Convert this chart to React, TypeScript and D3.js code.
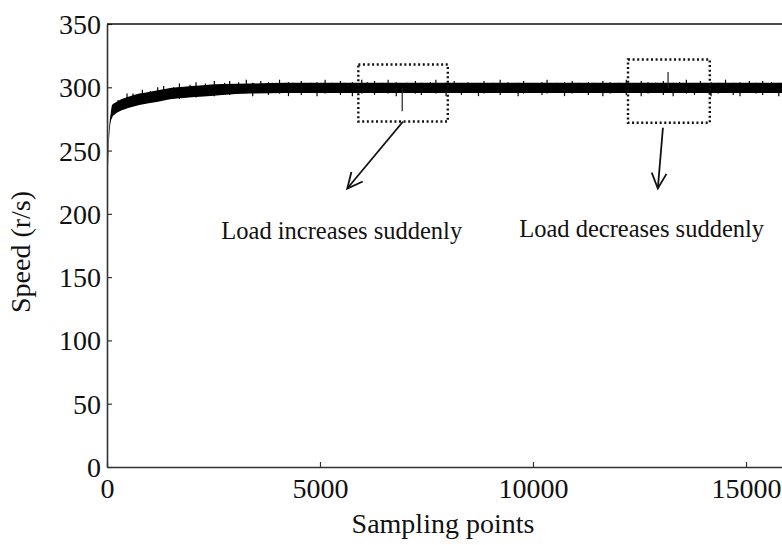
import React, { useRef, useEffect } from "react";
import * as d3 from "d3";

// envelope of the noisy speed trace (sampling point -> speed)
const bandX = [0, 15, 35, 60, 90, 120, 200, 300, 540, 760, 1010, 1250, 1480, 1800, 2180, 2700, 3360, 4200, 5000, 6000, 8000, 10000, 12000, 14000, 16000];
const bandHi = [212, 238, 260, 272, 280, 286, 288, 290, 293, 295, 296.5, 298, 299.5, 300.5, 301.5, 302.5, 303, 303.5, 303.5, 303.5, 303.5, 303.5, 303.5, 303.5, 303.5];
const bandLo = [205, 225, 250, 265, 273, 276, 279, 281, 284, 286, 287.5, 289, 290.5, 291.5, 292.5, 294, 295, 295.5, 295.5, 295.5, 295.5, 295.5, 295.5, 295.5, 295.5];

// visible noise spikes sticking out of the band (top / bottom end)
const spikeX = [260, 470, 610, 830, 1020, 1190, 1330, 1560, 1700, 1950, 2090, 2310, 2520, 2760, 2880, 3090, 3270, 3420, 3610, 3790, 3880, 4050, 4260, 4370, 4560, 4780, 4930, 5120, 5290, 5480, 5570, 5760, 5980, 6110, 6280, 6460, 6600, 6790, 7050, 7240, 7380, 7590, 7720, 7960, 8150, 8320, 8470, 8720, 8850, 9060, 9230, 9410, 9650, 9780, 9990, 10210, 10330, 10560, 10740, 10920, 11080, 11300, 11430, 11640, 11810, 12020, 12190, 12360, 12540, 12700, 12880, 13060, 13290, 13440, 13600, 13790, 13930, 14180, 14350, 14520, 14700, 14860, 15080, 15240, 15390, 15600, 15770, 15920];
const spikeHi = [290, 295, 295, 298, 297, 300, 301, 300, 303, 302, 304, 303, 305, 303.5, 305, 304, 306, 303.5, 305, 304, 303.5, 306, 304, 303.5, 305, 303.5, 304, 306, 303.5, 305, 303.5, 304, 306, 304, 305, 303.5, 306, 304, 303.5, 305, 303.5, 304, 306, 303.5, 305, 303.5, 304, 303.5, 305, 303.5, 306, 304, 303.5, 305, 303.5, 304, 306, 303.5, 304, 305, 303.5, 304, 303.5, 305, 304, 303.5, 306, 303.5, 305, 304, 303.5, 305, 303.5, 304, 306, 303.5, 305, 304, 303.5, 306, 303.5, 304, 305, 303.5, 305, 304, 303.5, 306];
const spikeLo = [283, 285, 287, 287, 289, 289, 291, 291, 291, 293, 292, 294, 293, 295, 294, 295.5, 295, 293, 295.5, 294, 295.5, 295, 293, 295.5, 294, 295.5, 293, 295, 295.5, 294, 295.5, 293, 295, 295.5, 294, 295.5, 295, 293, 295.5, 295, 294, 295.5, 295, 293, 295.5, 294, 295.5, 293, 295, 295.5, 294, 295.5, 293, 295, 295.5, 294, 295, 295.5, 293, 295, 295.5, 294, 295.5, 293, 295, 295.5, 294, 295.5, 293, 295, 295.5, 294, 293, 295.5, 295, 294, 295.5, 293, 295, 295.5, 294, 293, 295.5, 295, 294, 295.5, 293, 295];

// load disturbance events
const eventX = [6930, 13170];
const eventY = [281, 312];

const yTicks = [0, 50, 100, 150, 200, 250, 300, 350];
const xTicks = [0, 5000, 10000, 15000];

// annotation boxes [x0, x1, yTop, yBottom], arrows and labels (data coords)
const boxes = [
  [5900, 8000, 318, 273],
  [12230, 14150, 322, 272],
];
const arrows = [
  [6950, 273, 5640, 220],
  [13050, 268, 12930, 220],
];
const notes = ["Load increases suddenly", "Load decreases suddenly"];
const noteX = [5510, 12550];
const noteY = [180, 181.5];

export default function App() {
  const svgRef = useRef<SVGSVGElement>(null);
  const width = 782;
  const height = 545;
  const margin = { top: 24, left: 107, bottom: 78 };
  const serif = "'Liberation Serif', 'Times New Roman', serif";

  useEffect(() => {
    const svg = d3.select(svgRef.current);
    svg.selectAll("*").remove();

    const x = d3.scaleLinear().domain([0, 16000]).range([margin.left, margin.left + (16000 * 213) / 5000]);
    const y = d3.scaleLinear().domain([0, 350]).range([height - margin.bottom, margin.top]);

    // noisy band
    const band = bandX.map((v, i) => ({ x: v, hi: bandHi[i], lo: bandLo[i] }));
    svg
      .append("path")
      .datum(band)
      .attr("d", d3.area<any>().x((d) => x(d.x)).y0((d) => y(d.lo)).y1((d) => y(d.hi)).curve(d3.curveMonotoneX))
      .attr("fill", "#000");

    // spikes
    svg
      .selectAll(".spk")
      .data(spikeX)
      .enter()
      .append("line")
      .attr("x1", (d) => x(d))
      .attr("x2", (d) => x(d))
      .attr("y1", (d, i) => y(spikeHi[i]))
      .attr("y2", (d, i) => y(spikeLo[i]))
      .attr("stroke", "#000")
      .attr("stroke-width", 1.2);

    svg
      .selectAll(".evt")
      .data(eventX)
      .enter()
      .append("line")
      .attr("x1", (d) => x(d))
      .attr("x2", (d) => x(d))
      .attr("y1", y(299))
      .attr("y2", (d, i) => y(eventY[i]))
      .attr("stroke", "#222")
      .attr("stroke-width", 1.2);

    // axes
    const ax = svg
      .append("g")
      .attr("transform", `translate(0,${height - margin.bottom})`)
      .call(d3.axisBottom(x).tickValues(xTicks).tickSizeInner(-5).tickSizeOuter(0).tickPadding(11).tickFormat(d3.format("d")));
    const ay = svg
      .append("g")
      .attr("transform", `translate(${margin.left},0)`)
      .call(d3.axisLeft(y).tickValues(yTicks).tickSizeInner(-5).tickSizeOuter(0).tickPadding(6));
    [ax, ay].forEach((g) => {
      g.select(".domain").attr("stroke", "#333").attr("stroke-width", 1.6);
      g.selectAll(".tick line").attr("stroke", "#333").attr("stroke-width", 1.2);
      g.selectAll("text").attr("font-family", serif).attr("font-size", 28).attr("fill", "#111");
    });
    ay.selectAll("text").attr("dy", "0.34em");

    // top border
    svg
      .append("line")
      .attr("x1", margin.left)
      .attr("x2", x(16000))
      .attr("y1", y(350))
      .attr("y2", y(350))
      .attr("stroke", "#111")
      .attr("stroke-width", 1.6);

    // dotted boxes
    svg
      .selectAll(".box")
      .data(boxes)
      .enter()
      .append("rect")
      .attr("x", (d) => x(d[0]))
      .attr("y", (d) => y(d[2]))
      .attr("width", (d) => x(d[1]) - x(d[0]))
      .attr("height", (d) => y(d[3]) - y(d[2]))
      .attr("fill", "none")
      .attr("stroke", "#111")
      .attr("stroke-width", 2.4)
      .attr("stroke-dasharray", "2 2.6");

    // arrows
    arrows.forEach((a) => {
      const x1 = x(a[0]), y1 = y(a[1]), x2 = x(a[2]), y2 = y(a[3]);
      const ang = Math.atan2(y2 - y1, x2 - x1);
      const len = 17;
      const spread = 0.45;
      svg
        .append("line")
        .attr("x1", x1)
        .attr("y1", y1)
        .attr("x2", x2)
        .attr("y2", y2)
        .attr("stroke", "#111")
        .attr("stroke-width", 1.8);
      svg
        .append("path")
        .attr(
          "d",
          `M${x2 - len * Math.cos(ang - spread)},${y2 - len * Math.sin(ang - spread)}L${x2},${y2}L${x2 - len * Math.cos(ang + spread)},${y2 - len * Math.sin(ang + spread)}`
        )
        .attr("fill", "none")
        .attr("stroke", "#111")
        .attr("stroke-width", 1.8);
    });

    // notes
    svg
      .selectAll(".note")
      .data(notes)
      .enter()
      .append("text")
      .attr("x", (d, i) => x(noteX[i]))
      .attr("y", (d, i) => y(noteY[i]))
      .attr("text-anchor", "middle")
      .attr("font-family", serif)
      .attr("font-size", 24.5)
      .attr("fill", "#111")
      .text((d) => d);

    // axis labels
    svg
      .append("text")
      .attr("x", 443)
      .attr("y", 533)
      .attr("text-anchor", "middle")
      .attr("font-family", serif)
      .attr("font-size", 28)
      .attr("fill", "#111")
      .text("Sampling points");
    svg
      .append("text")
      .attr("transform", "rotate(-90)")
      .attr("x", -252)
      .attr("y", 30)
      .attr("text-anchor", "middle")
      .attr("font-family", serif)
      .attr("font-size", 28)
      .attr("fill", "#111")
      .text("Speed (r/s)");
  }, []);

  return (
    <svg
      ref={svgRef}
      width={width}
      height={height}
      style={{ position: "absolute", left: 0, top: 0, background: "#fff" }}
    />
  );
}
